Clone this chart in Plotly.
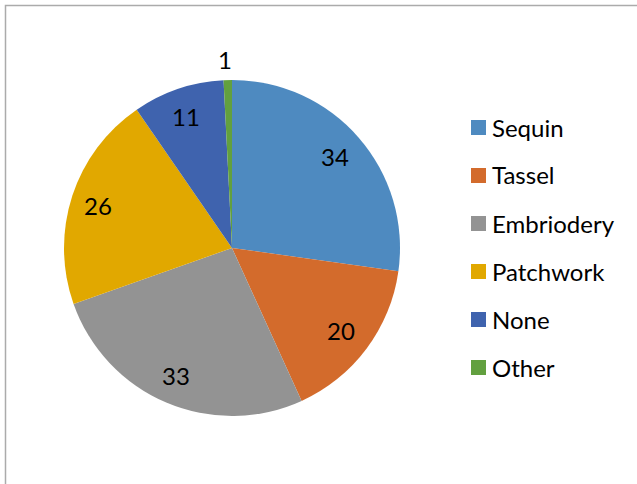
import math
import plotly.graph_objects as go

# Embellishment survey counts
categories = ["Sequin", "Tassel", "Embriodery", "Patchwork", "None", "Other"]
counts = [34, 20, 33, 26, 11, 1]
colors = ["#4E8AC0", "#D36B2C", "#939393", "#E1A800", "#3F63AE", "#62A03F"]

W, H = 637, 484
CX, CY, R = 232, 248, 168          # pie centre and radius in pixels
FONT = "Lato, 'Open Sans', sans-serif"
FS = 24


def px_x(x):
    return x / W


def px_y(y):
    return 1 - y / H


fig = go.Figure(
    go.Pie(
        labels=categories,
        values=counts,
        sort=False,
        direction="clockwise",
        rotation=0,
        marker=dict(colors=colors, line=dict(width=0)),
        textinfo="none",
        hoverinfo="label+value",
        showlegend=False,
        domain=dict(x=[px_x(CX - R), px_x(CX + R)], y=[px_y(CY + R), px_y(CY - R)]),
    )
)

annotations = []
shapes = []

# value labels placed at each slice's mid-angle
total = sum(counts)
cum = 0
for name, v in zip(categories, counts):
    mid = (cum + v / 2) / total * 2 * math.pi
    cum += v
    frac = 0.825 if v / total > 0.03 else 1.125
    x = CX + R * frac * math.sin(mid)
    y = CY - R * frac * math.cos(mid)
    annotations.append(dict(
        x=px_x(x - 2), y=px_y(y), xref="paper", yref="paper",
        text=str(v), showarrow=False, xanchor="center", yanchor="middle",
        font=dict(family=FONT, size=FS, color="#000000"),
    ))

# legend: coloured squares with category names
LEG_X, LEG_Y0, LEG_DY, SQ = 471, 127.5, 48, 15
for i, (name, c) in enumerate(zip(categories, colors)):
    yc = LEG_Y0 + i * LEG_DY
    shapes.append(dict(
        type="rect", xref="paper", yref="paper",
        x0=px_x(LEG_X), x1=px_x(LEG_X + SQ),
        y0=px_y(yc + SQ / 2), y1=px_y(yc - SQ / 2),
        fillcolor=c, line=dict(width=0),
    ))
    annotations.append(dict(
        x=px_x(LEG_X + SQ + 4), y=px_y(yc - 0.5), xref="paper", yref="paper",
        text=name, showarrow=False, xanchor="left", yanchor="middle",
        font=dict(family=FONT, size=FS, color="#000000"),
    ))

# chart-area frame
shapes.append(dict(
    type="rect", xref="paper", yref="paper",
    x0=px_x(5.5), x1=1.05, y0=-0.05, y1=px_y(5.5),
    line=dict(color="#ABABAB", width=1.5), fillcolor="rgba(0,0,0,0)",
))

fig.update_layout(
    width=W, height=H,
    margin=dict(l=0, r=0, t=0, b=0),
    paper_bgcolor="white",
    plot_bgcolor="white",
    annotations=annotations,
    shapes=shapes,
)

fig.write_html("out.html")
